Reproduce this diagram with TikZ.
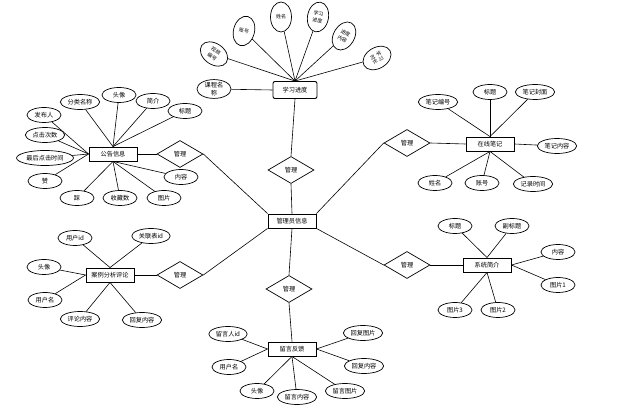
\documentclass[tikz,border=0pt]{standalone}
\usepackage{fontspec}
\setmainfont{Noto Sans CJK SC}
\usepackage{tikz}
\usetikzlibrary{shapes.geometric}

\begin{document}
\begin{tikzpicture}[x=1pt, y=-1pt,
    entity/.style={draw, line width=0.9pt, inner sep=0pt, minimum width=48, minimum height=14, font=\fontsize{6.2}{7}\selectfont},
    attr/.style={draw, ellipse, line width=0.7pt, inner xsep=1.5pt, inner ysep=0.5pt, minimum width=34, minimum height=15, font=\fontsize{6.2}{7}\selectfont},
    tilt/.style={draw, ellipse, line width=0.7pt, inner sep=0pt, minimum width=21, minimum height=30, align=center, font=\fontsize{5}{6.6}\selectfont},
    rel/.style={draw, diamond, line width=0.7pt, inner sep=0pt, aspect=1.7, minimum width=46, minimum height=27, font=\fontsize{6.2}{7}\selectfont},
    link/.style={line width=0.6pt}]
        \useasboundingbox (0,0) rectangle (635,411);

        % Entities
        \node[entity] (admin)    at (292,221) {管理员信息};
        \node[entity, rounded corners=2pt, minimum width=44, minimum height=17] (study) at (295,90) {学习进度};
        \node[entity] (notice)   at (113,154) {公告信息};
        \node[entity] (note)     at (490,144) {在线笔记};
        \node[entity] (comment)  at (110,275) {案例分析评论};
        \node[entity] (feedback) at (292,349) {留言反馈};
        \node[entity] (intro)    at (487,265) {系统简介};

        % Relations
        \node[rel] (mStudy)    at (291,170) {管理};
        \node[rel] (mNotice)   at (180,154) {管理};
        \node[rel] (mNote)     at (407,143) {管理};
        \node[rel] (mComment)  at (180,275) {管理};
        \node[rel] (mFeedback) at (289,289) {管理};
        \node[rel] (mIntro)    at (407,265) {管理};

        \draw[link] (admin.north) -- (mStudy.south);
        \draw[link] (mStudy.north) -- (study.south);
        \draw[link] (admin.north west) -- (mNotice.east);
        \draw[link] (mNotice.west) -- (notice.east);
        \draw[link] (admin.north east) -- (mNote.west);
        \draw[link] (mNote.east) -- (note.west);
        \draw[link] (admin.south west) -- (mComment.east);
        \draw[link] (mComment.west) -- (comment.east);
        \draw[link] (admin.south) -- (mFeedback.north);
        \draw[link] (mFeedback.south) -- (feedback.north);
        \draw[link] (admin.south east) -- (mIntro.west);
        \draw[link] (mIntro.east) -- (intro.west);

        % Study attributes
        \node[attr, align=center, inner ysep=0pt, font=\fontsize{6.2}{7.6}\selectfont] (study-1) at (214,89) {课程名\\称};
        \draw[link] (study-1) -- (study.west);
        \node[tilt, minimum width=30, minimum height=21, rotate=-35] (study-2) at (214,54) {视频\\编号};
        \draw[link] (study-2) -- (study.north);
        \foreach \x/\y/\r/\t [count=\i from 3] in {244/31/-15/账号, 281/17/0/姓名,
                318/17/-10/学习\\进度, 344/36/-30/进度\\内容, 377/58/-60/学习\\时长}
        {
            \node[tilt, rotate=\r] (study-\i) at (\x,\y) {\t};
            \draw[link] (study-\i) -- (study.north);
        }

        % Notice attributes
        \foreach \x/\y/\t/\a [count=\i] in {80/102/分类名称/north, 119/95/头像/north, 153/101/简介/north,
                185/111/标题/north, 44/115/发布人/west, 45/135/点击次数/west, 45/158/最后点击时间/west,
                45/181/赞/west, 77/198/踩/south, 120/198/收藏数/south, 164/198/图片/south, 181/177/内容/south}
        {
            \node[attr] (notice-\i) at (\x,\y) {\t};
            \draw[link] (notice-\i) -- (notice.\a);
        }

        % Note attributes
        \foreach \x/\y/\t/\a [count=\i] in {438/102/笔记编号/north, 490/92/标题/north, 535/92/笔记封面/north,
                557/146/笔记内容/east, 435/183/姓名/south, 482/183/账号/south, 533/184/记录时间/south}
        {
            \node[attr] (note-\i) at (\x,\y) {\t};
            \draw[link] (note-\i) -- (note.\a);
        }

        % Comment attributes
        \foreach \x/\y/\t/\a [count=\i] in {75/238/用户id/north, 151/236/关联表id/north, 44/267/头像/west,
                45/300/用户名/west, 80/319/评论内容/south, 142/320/回复内容/south}
        {
            \node[attr] (comment-\i) at (\x,\y) {\t};
            \draw[link] (comment-\i) -- (comment.\a);
        }

        % Feedback attributes
        \foreach \x/\y/\t/\a [count=\i] in {228/334/留言人id/west, 229/367/用户名/west, 257/391/头像/south,
                297/397/留言内容/south, 345/391/留言图片/south, 364/366/回复内容/east, 363/333/回复图片/east}
        {
            \node[attr] (feedback-\i) at (\x,\y) {\t};
            \draw[link] (feedback-\i) -- (feedback.\a);
        }

        % Intro attributes
        \foreach \x/\y/\t/\a [count=\i] in {455/226/标题/north, 512/226/副标题/north, 558/252/内容/east,
                558/285/图片1/east, 455/310/图片3/south, 498/310/图片2/south}
        {
            \node[attr] (intro-\i) at (\x,\y) {\t};
            \draw[link] (intro-\i) -- (intro.\a);
        }
    \end{tikzpicture}
\end{document}
